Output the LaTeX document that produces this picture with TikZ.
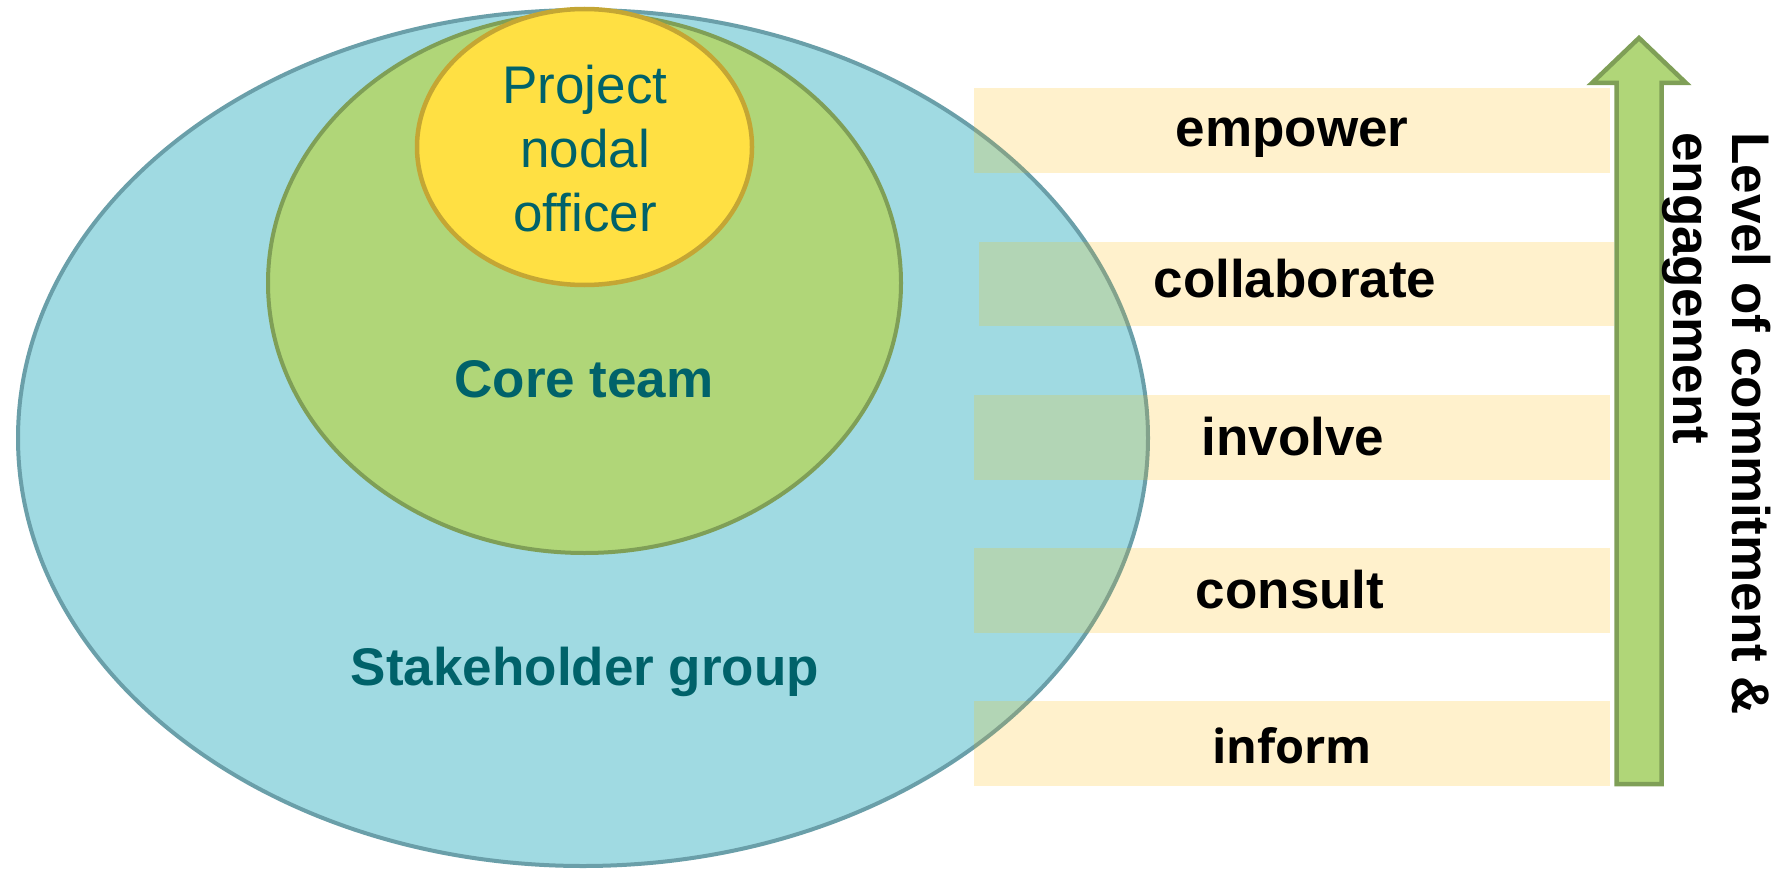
\documentclass[tikz,border=0pt]{standalone}
\usepackage{fontspec}
\setmainfont{Liberation Sans}
\newfontfamily\humanist{Open Sans}
\definecolor{sfill}{HTML}{A0DAE2}
\definecolor{sline}{HTML}{6A9FA9}
\definecolor{cfill}{HTML}{B0D678}
\definecolor{cline}{HTML}{7F9F57}
\definecolor{pfill}{HTML}{FFE043}
\definecolor{pline}{HTML}{C4A634}
\definecolor{boxfill}{HTML}{FFF1CC}
\definecolor{overlapfill}{HTML}{B2D5B5}
\definecolor{overlapline}{HTML}{82A28C}
\definecolor{tealtext}{HTML}{00626A}
\tikzset{
  lvlbox/.style={fill=boxfill, draw=none},
  lvltext/.style={anchor=base, inner sep=0pt, font=\fontsize{53}{60}\selectfont\bfseries, text=black},
  grouptext/.style={inner sep=0pt, text=tealtext},
}
\begin{document}
\begin{tikzpicture}[x=1pt,y=-1pt]
\useasboundingbox (0,0) rectangle (1786,872);
% stakeholder ellipse
\fill[sfill] (583,438) ellipse [x radius=565, y radius=428];
\draw[sline, line width=4pt] (583,438) ellipse [x radius=565, y radius=428];
% level boxes
\coordinate (b1a) at (974,88);  \coordinate (b1b) at (1610,173);
\coordinate (b2a) at (979,242); \coordinate (b2b) at (1614,326);
\coordinate (b3a) at (974,395); \coordinate (b3b) at (1610,480);
\coordinate (b4a) at (974,548); \coordinate (b4b) at (1610,633);
\coordinate (b5a) at (974,701); \coordinate (b5b) at (1610,786);
\foreach \i in {1,...,5} { \fill[boxfill] (b\i a) rectangle (b\i b); }
\begin{scope}
  \clip (583,438) ellipse [x radius=565, y radius=428];
  \foreach \i in {1,...,5} { \fill[overlapfill] (b\i a) rectangle (b\i b); }
\end{scope}
\begin{scope}
  \clip (b1a) rectangle (b1b) (b2a) rectangle (b2b) (b3a) rectangle (b3b) (b4a) rectangle (b4b) (b5a) rectangle (b5b);
  \draw[overlapline, line width=4pt] (583,438) ellipse [x radius=565, y radius=428];
\end{scope}
% core team ellipse
\draw[cline, fill=cfill, line width=4pt] (584.5,283) ellipse [x radius=316.5, y radius=270];
% project nodal officer ellipse
\draw[pline, fill=pfill, line width=4.5pt] (584.5,147) ellipse [x radius=167.5, y radius=138];
% texts
\node[grouptext, align=center, font=\fontsize{53}{64}\selectfont] (pno) at (585,149) {Project\\nodal\\officer};
\node[grouptext, anchor=base, font=\fontsize{53}{60}\selectfont\bfseries] (core) at (584,397) {Core team};
\node[grouptext, anchor=base, font=\fontsize{53}{60}\selectfont\bfseries] (stake) at (585,685) {Stakeholder group};
\node[lvltext] (t1) at (1292,147) {empower};
\node[lvltext] (t2) at (1295,297) {collaborate};
\node[lvltext] (t3) at (1293,455) {involve};
\node[lvltext] (t4) at (1290,608) {consult};
\node[lvltext, font=\fontsize{47}{60}\selectfont\humanist\bfseries] (t5) at (1292,763) {inform};
% arrow
\draw[cline, fill=cfill, line width=4.5pt, line join=miter]
  (1616.5,784) -- (1616.5,83) -- (1592,83) -- (1639,38) -- (1686,83) -- (1661.5,83) -- (1661.5,784) -- cycle;
\node[rotate=-90, anchor=north west, inner sep=0pt, align=left, text=black,
      font=\fontsize{53}{59}\selectfont\bfseries] (lvl) at (1771,132) {Level of commitment \&\\engagement};
\end{tikzpicture}
\end{document}
